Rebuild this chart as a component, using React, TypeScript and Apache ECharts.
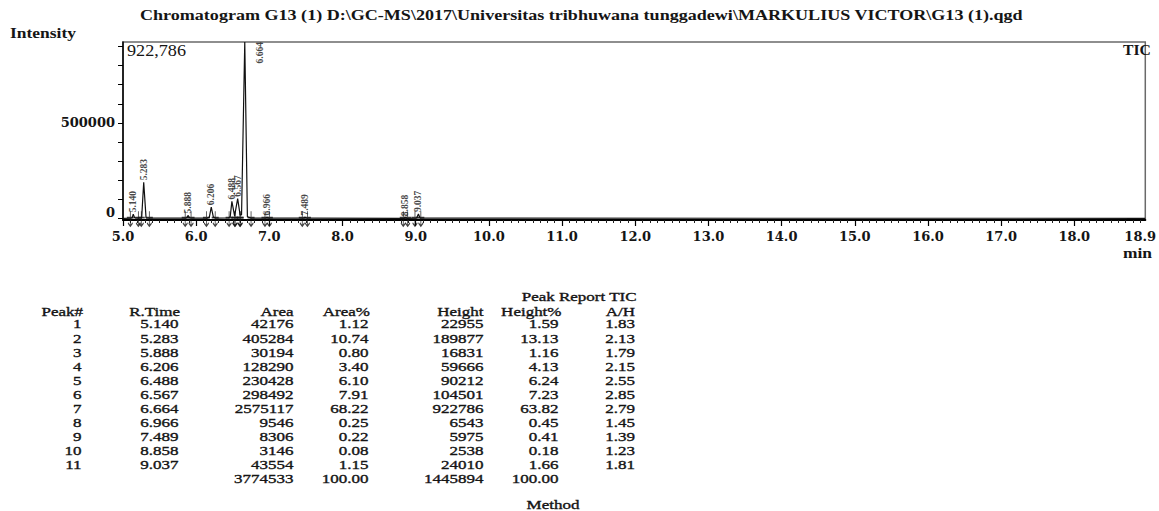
import React, { useEffect, useRef } from 'react';
import * as echarts from 'echarts';

const titleText =
  'Chromatogram G13 (1) D:\\GC-MS\\2017\\Universitas tribhuwana tunggadewi\\MARKULIUS VICTOR\\G13 (1).qgd';

// Peak report
const peakNo = [1, 2, 3, 4, 5, 6, 7, 8, 9, 10, 11];
const rTimes = [5.14, 5.283, 5.888, 6.206, 6.488, 6.567, 6.664, 6.966, 7.489, 8.858, 9.037];
const areas = [42176, 405284, 30194, 128290, 230428, 298492, 2575117, 9546, 8306, 3146, 43554];
const areaPct = [1.12, 10.74, 0.8, 3.4, 6.1, 7.91, 68.22, 0.25, 0.22, 0.08, 1.15];
const heights = [22955, 189877, 16831, 59666, 90212, 104501, 922786, 6543, 5975, 2538, 24010];
const heightPct = [1.59, 13.13, 1.16, 4.13, 6.24, 7.23, 63.82, 0.45, 0.41, 0.18, 1.66];
const aOverH = [1.83, 2.13, 1.79, 2.15, 2.55, 2.85, 2.79, 1.45, 1.39, 1.23, 1.81];
const totalArea = 3774533;
const totalAreaPct = 100.0;
const totalHeight = 1445894;
const totalHeightPct = 100.0;

// Integration marks (peak start / end, min)
const peakStart = [5.1, 5.25, 5.85, 6.14, 6.45, 6.53, 6.6, 6.94, 7.45, 8.83, 8.99];
const peakEnd = [5.21, 5.36, 5.93, 6.26, 6.53, 6.6, 6.75, 7.0, 7.52, 8.89, 9.07];

// TIC trace
const traceTimes = [
  5.0, 5.1, 5.125, 5.14, 5.16, 5.2, 5.255, 5.283, 5.315, 5.36, 5.85, 5.87, 5.888, 5.91, 5.95,
  6.15, 6.18, 6.206, 6.235, 6.27, 6.44, 6.465, 6.488, 6.525, 6.567, 6.6, 6.62, 6.664, 6.7, 6.75,
  6.95, 6.966, 6.985, 7.47, 7.489, 7.51, 8.84, 8.858, 8.875, 9.01, 9.037, 9.06, 18.97,
];
const traceIntensity = [
  2000, 2500, 4000, 22955, 4000, 3000, 4000, 189877, 4000, 2500, 2500, 4000, 16831, 4000, 2500,
  3000, 8000, 59666, 8000, 3000, 3500, 10000, 90212, 15000, 104501, 20000, 20000, 922786, 10000, 3000,
  2500, 6543, 2500, 2500, 5975, 2500, 2000, 2538, 2000, 2500, 24010, 2500, 2000,
];

const xMajorTicks = [5, 6, 7, 8, 9, 10, 11, 12, 13, 14, 15, 16, 17, 18];
const xTickLabels = [5, 6, 7, 8, 9, 10, 11, 12, 13, 14, 15, 16, 17, 18, 18.9];
const yTicks = [0, 100000, 200000, 300000, 400000, 500000, 600000, 700000, 800000, 900000];
const yTickLabels = [0, 500000];

const LS = '"Liberation Serif", "Times New Roman", serif';
const AXF = '"DejaVu Serif", serif';
const INK = '#151515';

let measureCtx: CanvasRenderingContext2D | null = null;
function measure(text: string, font: string): number {
  if (!measureCtx) measureCtx = document.createElement('canvas').getContext('2d');
  if (!measureCtx) return text.length * 7;
  measureCtx.font = font;
  return measureCtx.measureText(text).width;
}

function txt(text: string, x: number, y: number, font: string, align: string, sx: number, extra: any = {}) {
  return {
    type: 'text',
    x,
    y,
    scaleX: sx,
    silent: true,
    style: {
      text,
      font,
      fill: INK,
      align,
      textAlign: align,
      verticalAlign: 'middle',
      textVerticalAlign: 'middle',
      ...extra,
    },
  };
}

function fitTxt(text: string, left: number, right: number, y: number, font: string, extra: any = {}) {
  const sx = (right - left) / measure(text, font);
  return txt(text, left, y, font, 'left', sx, extra);
}

function buildGraphic() {
  const g: any[] = [];
  const heavy = { stroke: INK, lineWidth: 0.35 };
  g.push(fitTxt(titleText, 140, 1023, 15, `bold 15px ${LS}`));
  g.push(fitTxt('Intensity', 10, 76, 33, `bold 15px ${LS}`));
  g.push(fitTxt('922,786', 127, 186, 50.5, `16px ${LS}`));
  g.push(fitTxt('TIC', 1123, 1151, 50, `bold 14px ${LS}`));
  g.push(fitTxt('min', 1123, 1152, 253, `bold 14px ${LS}`));

  const TF = `12.5px ${LS}`;
  const SX = 1.36;
  const headerY = 311.6;
  const row0 = 324.3;
  const step = 14.06;
  const cols: { h: string; r: number; hr?: number; v: string[]; t?: string }[] = [
    { h: 'Peak#', r: 81.5, hr: 83, v: peakNo.map(String) },
    { h: 'R.Time', r: 178.5, hr: 180, v: rTimes.map((d) => d.toFixed(3)) },
    { h: 'Area', r: 293.5, v: areas.map(String), t: String(totalArea) },
    { h: 'Area%', r: 368.5, hr: 370, v: areaPct.map((d) => d.toFixed(2)), t: totalAreaPct.toFixed(2) },
    { h: 'Height', r: 483.5, v: heights.map(String), t: String(totalHeight) },
    { h: 'Height%', r: 558.5, hr: 561.5, v: heightPct.map((d) => d.toFixed(2)), t: totalHeightPct.toFixed(2) },
    { h: 'A/H', r: 635, v: aOverH.map((d) => d.toFixed(2)) },
  ];
  cols.forEach((c) => {
    g.push(txt(c.h, c.hr ?? c.r, headerY, TF, 'right', SX, heavy));
    c.v.forEach((s, i) => g.push(txt(s, c.r, row0 + i * step, TF, 'right', SX, heavy)));
    if (c.t) g.push(txt(c.t, c.r, row0 + c.v.length * step, TF, 'right', SX, heavy));
  });
  g.push(txt('Peak Report TIC', 636.5, 296.8, TF, 'right', SX, heavy));
  g.push(txt('Method', 553, 505, TF, 'center', SX, heavy));
  return g;
}

export default function App() {
  const ref = useRef<HTMLDivElement>(null);
  useEffect(() => {
    document.body.style.margin = '0';
    if (!ref.current) return;
    const chart = echarts.init(ref.current, undefined, { renderer: 'svg' });

    const trace = traceTimes.map((t, i) => [t, traceIntensity[i]]);
    const apex = rTimes.map((t, i) => {
      const item: any = { value: [t, heights[i]] };
      if (heights[i] >= 922786) {
        item.label = { position: 'right', distance: 15, align: 'right', verticalAlign: 'middle' };
      }
      return item;
    });
    const marks = [...peakStart, ...peakEnd].map((t) => [t, 0]);

    const axisLabelFont = {
      fontFamily: AXF,
      fontWeight: 'bold',
      fontSize: 13,
      color: INK,
    };

    chart.setOption({
      animation: false,
      backgroundColor: '#ffffff',
      grid: {
        left: 123,
        right: 7,
        top: 42,
        bottom: 291,
        show: true,
        borderColor: '#6a6a6a',
        borderWidth: 1.5,
        containLabel: false,
      },
      xAxis: {
        type: 'value',
        min: 5,
        max: 18.97,
        interval: 1,
        axisLine: { show: true, onZero: false, lineStyle: { color: '#000', width: 2 } },
        axisTick: { show: true, length: 6, customValues: xMajorTicks, lineStyle: { color: '#000', width: 1.2 } },
        minorTick: { show: true, splitNumber: 10, length: 3, lineStyle: { color: '#222', width: 1 } },
        splitLine: { show: false },
        axisLabel: {
          customValues: xTickLabels,
          margin: 10,
          formatter: (v: number) => v.toFixed(1),
          ...axisLabelFont,
        },
      },
      yAxis: {
        type: 'value',
        min: -7000,
        max: 922786,
        axisLine: { show: true, lineStyle: { color: '#000', width: 1.5 } },
        axisTick: { show: true, length: 5, customValues: yTicks, lineStyle: { color: '#000', width: 1 } },
        splitLine: { show: false },
        axisLabel: {
          customValues: yTickLabels,
          margin: 8,
          formatter: (v: number) => (v === 0 ? '{z|0}' : String(v)),
          rich: {
            z: { padding: [0, 0, 13, 0], ...axisLabelFont },
          },
          ...axisLabelFont,
        },
      },
      graphic: buildGraphic(),
      series: [
        {
          type: 'line',
          data: trace,
          showSymbol: false,
          symbol: 'none',
          lineStyle: { color: '#111', width: 1.2 },
          z: 3,
        },
        {
          type: 'scatter',
          data: apex,
          symbolSize: 0,
          clip: false,
          silent: true,
          z: 4,
          label: {
            show: true,
            position: 'top',
            distance: 2,
            rotate: 90,
            align: 'left',
            verticalAlign: 'middle',
            formatter: (p: any) => p.value[0].toFixed(3),
            fontFamily: LS,
            fontWeight: 'bold',
            fontSize: 9.5,
            color: INK,
          },
        },
        {
          type: 'scatter',
          data: marks,
          symbol: 'path://M3,0 L3,14 M0,6 L6,6 M1,11 L3,14 L5,11',
          symbolSize: [7, 15],
          clip: false,
          silent: true,
          z: 5,
          itemStyle: { color: 'transparent', borderColor: '#111', borderWidth: 1.2 },
        },
      ],
    });
    return () => chart.dispose();
  }, []);
  return (
    <div
      ref={ref}
      style={{ position: 'fixed', left: 0, top: 0, width: 1159, height: 511, background: '#fff' }}
    />
  );
}
